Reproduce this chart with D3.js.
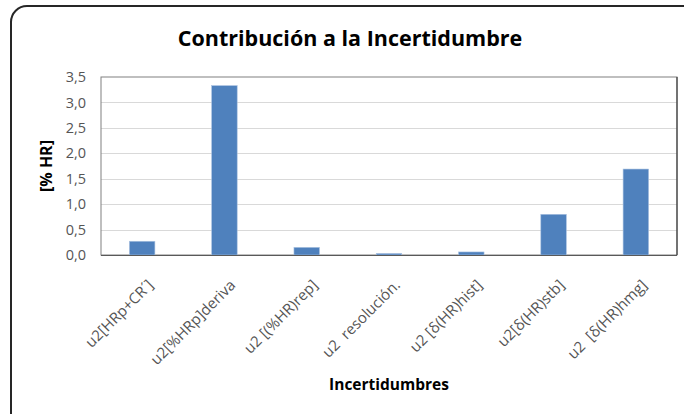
<!DOCTYPE html>
<html>
<head>
<meta charset="utf-8">
<script src="https://cdn.jsdelivr.net/npm/d3@7"></script>
<style>
  html, body { margin: 0; padding: 0; background: #fff; }
  svg text { font-family: "Open Sans", "Liberation Sans", sans-serif; white-space: pre; }
</style>
</head>
<body>
<script>
// Uncertainty contributions, in % HR
const categories = [
  "u2[HRp+CR´]",
  "u2[%HRp]deriva",
  "u2 [(%HR)rep]",
  "u2  resolución.",
  "u2 [δ(HR)hist]",
  "u2[δ(HR)stb]",
  "u2  [δ(HR)hmg]"
];
const values = [0.27, 3.33, 0.15, 0.03, 0.06, 0.80, 1.69];
const yTicks = [0, 0.5, 1.0, 1.5, 2.0, 2.5, 3.0, 3.5];

const chartTitle = "Contribución a la Incertidumbre";
const xTitle = "Incertidumbres";
const yTitle = "[% HR]";

const W = 684, H = 414;
const plot = { left: 101, right: 677, top: 77, bottom: 255 };

const svg = d3.select("body").append("svg")
  .attr("width", W).attr("height", H);

// chart frame with rounded corners
svg.append("rect")
  .attr("x", 11).attr("y", 6)
  .attr("width", 700).attr("height", 430)
  .attr("rx", 16).attr("ry", 16)
  .attr("fill", "#fff")
  .attr("stroke", "#262626").attr("stroke-width", 2);

const x = d3.scaleBand()
  .domain(categories)
  .range([plot.left, plot.right])
  .paddingInner(0.69).paddingOuter(0.345);

const y = d3.scaleLinear()
  .domain([0, 3.5])
  .range([plot.bottom, plot.top]);

// gridlines
svg.append("g")
  .selectAll("line")
  .data(yTicks.filter(d => d > 0 && d < 3.5))
  .join("line")
  .attr("x1", plot.left).attr("x2", plot.right)
  .attr("y1", d => Math.round(y(d)) + 0.5).attr("y2", d => Math.round(y(d)) + 0.5)
  .attr("stroke", "#d9d9d9").attr("stroke-width", 1);

// plot area border
svg.append("rect")
  .attr("x", plot.left).attr("y", plot.top)
  .attr("width", plot.right - plot.left).attr("height", plot.bottom - plot.top)
  .attr("fill", "none").attr("stroke", "#808080").attr("stroke-width", 1);
svg.append("line")
  .attr("x1", plot.right).attr("x2", plot.right)
  .attr("y1", plot.top).attr("y2", plot.bottom)
  .attr("stroke", "#404040").attr("stroke-width", 1.2);

// bars
svg.append("g")
  .selectAll("rect")
  .data(values)
  .join("rect")
  .attr("x", (d, i) => x(categories[i]))
  .attr("width", x.bandwidth())
  .attr("y", d => y(d))
  .attr("height", d => y(0) - y(d))
  .attr("fill", "#4f81bd")
  .attr("stroke", "#a9c1e0").attr("stroke-width", 0.6);

// x axis baseline
svg.append("line")
  .attr("x1", plot.left).attr("x2", plot.right)
  .attr("y1", plot.bottom + 0.5).attr("y2", plot.bottom + 0.5)
  .attr("stroke", "#595959").attr("stroke-width", 1.2);

// y axis labels
const yAxis = d3.axisLeft(y)
  .tickValues(yTicks)
  .tickSize(0)
  .tickPadding(15)
  .tickFormat(d => d3.format(".1f")(d).replace(".", ","));
const gy = svg.append("g")
  .attr("transform", `translate(${plot.left},0)`)
  .call(yAxis);
gy.select(".domain").remove();
gy.selectAll("text")
  .attr("font-family", "\"Open Sans\", sans-serif")
  .attr("font-size", 14.5)
  .attr("fill", "#555");

// x axis labels, rotated
const xAxis = d3.axisBottom(x).tickSize(0).tickPadding(0);
const gx = svg.append("g")
  .attr("transform", `translate(0,${plot.bottom})`)
  .call(xAxis);
gx.select(".domain").remove();
gx.selectAll("text")
  .attr("font-family", "\"Open Sans\", sans-serif")
  .attr("font-size", 15)
  .attr("fill", "#555")
  .attr("text-anchor", "end")
  .attr("dy", null)
  .attr("y", 0)
  .attr("transform", "translate(12,31) rotate(-45)");

// titles
svg.append("text")
  .attr("x", 350).attr("y", 46)
  .attr("text-anchor", "middle")
  .attr("font-size", 21.5).attr("font-weight", "bold")
  .attr("fill", "#000")
  .text(chartTitle);

svg.append("text")
  .attr("x", (plot.left + plot.right) / 2).attr("y", 390)
  .attr("text-anchor", "middle")
  .attr("font-size", 15.5).attr("font-weight", "bold")
  .attr("fill", "#000")
  .text(xTitle);

svg.append("text")
  .attr("transform", "translate(52,166) rotate(-90)")
  .attr("text-anchor", "middle")
  .attr("font-size", 16).attr("font-weight", "bold")
  .attr("fill", "#000")
  .text(yTitle);
</script>
</body>
</html>
